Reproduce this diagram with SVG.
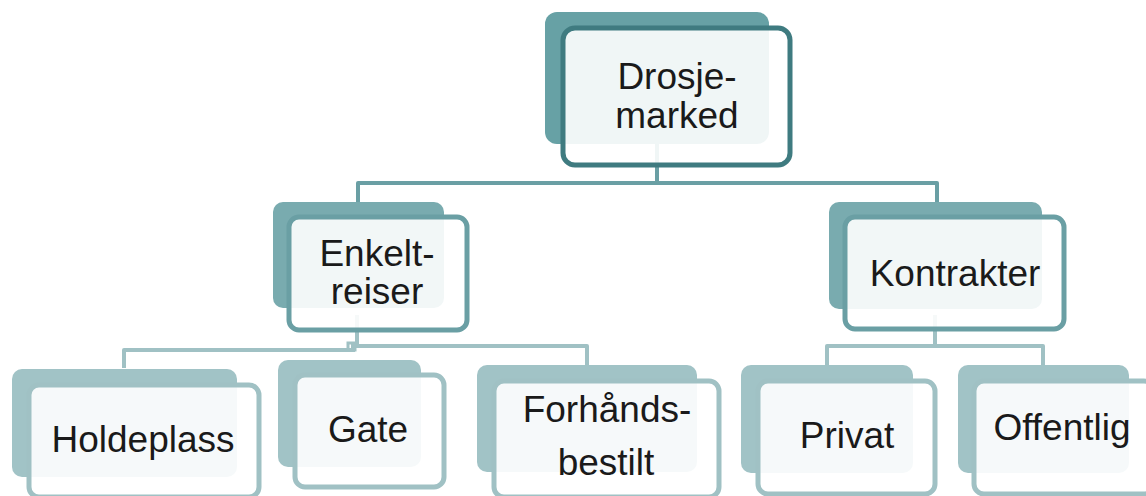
<svg xmlns="http://www.w3.org/2000/svg" width="1146" height="496" viewBox="0 0 1146 496">
<style>
text{font-family:"Liberation Sans",Arial,sans-serif;font-size:37px;fill:#1a1a1a;text-anchor:middle}
.front{fill:#ffffff;fill-opacity:0.9;stroke-width:5}
.c{fill:none;stroke-width:4;stroke-linejoin:round}
.b1{fill:#67a1a5}.f1{stroke:#3f7b80}
.b2{fill:#79abaf}.f2{stroke:#6a9fa4}
.b3{fill:#a1c3c6}.f3{stroke:#a0c1c4}
.c2{stroke:#6a9fa4}.c3{stroke:#a0c1c4}
</style>
<rect width="1146" height="496" fill="#ffffff"/>
<g id="connectors">
<path class="c c2" d="M657,144 V183 M358,202 V183 H937 V202"/>
<path class="c c3" d="M124,368 V350 H355 M351,346 H587 V365 M357,315 V346"/>
<rect x="348" y="343" width="7" height="7" fill="none" stroke="#a0c1c4" stroke-width="3"/>
<path class="c c3" d="M935,315 V346 M827,365 V346 H1043 V365"/>
</g>
<g id="n-drosjemarked">
<rect class="b1" x="545" y="12" width="224" height="132" rx="12"/>
<rect class="front f1" x="563" y="28" width="227" height="137" rx="12"/>
<text x="677" y="89">Drosje-</text>
<text x="677" y="128">marked</text>
</g>
<g id="n-enkeltreiser">
<rect class="b2" x="273" y="202" width="171" height="106" rx="10"/>
<rect class="front f2" x="289" y="217" width="178" height="113" rx="10"/>
<text x="377" y="266">Enkelt-</text>
<text x="377" y="304">reiser</text>
</g>
<g id="n-kontrakter">
<rect class="b2" x="829" y="202" width="213" height="107" rx="10"/>
<rect class="front f2" x="845" y="217" width="219" height="112" rx="10"/>
<text x="955" y="286">Kontrakter</text>
</g>
<g id="n-holdeplass">
<rect class="b3" x="12" y="369" width="225" height="108" rx="10"/>
<rect class="front f3" x="29" y="385" width="230" height="112" rx="10"/>
<text x="143" y="452">Holdeplass</text>
</g>
<g id="n-gate">
<rect class="b3" x="278" y="360" width="143" height="107" rx="10"/>
<rect class="front f3" x="295" y="375" width="149" height="112" rx="10"/>
<text x="368" y="442">Gate</text>
</g>
<g id="n-forhandsbestilt">
<rect class="b3" x="477" y="365" width="220" height="107" rx="10"/>
<rect class="front f3" x="494" y="381" width="225" height="116" rx="10"/>
<text x="607" y="422">Forhånds-</text>
<text x="606" y="475">bestilt</text>
</g>
<g id="n-privat">
<rect class="b3" x="741" y="365" width="172" height="108" rx="10"/>
<rect class="front f3" x="758" y="381" width="177" height="113" rx="10"/>
<text x="847" y="448">Privat</text>
</g>
<g id="n-offentlig">
<rect class="b3" x="958" y="365" width="171" height="108" rx="10"/>
<rect class="front f3" x="974" y="381" width="180" height="113" rx="10"/>
<text x="1062" y="440">Offentlig</text>
</g>
</svg>
